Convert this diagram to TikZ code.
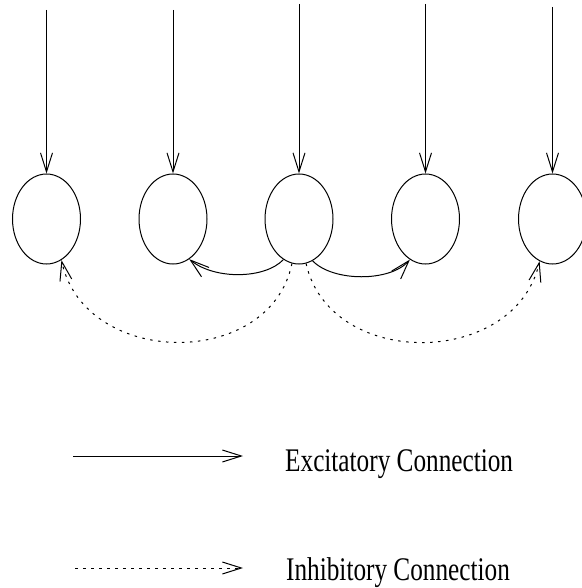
\documentclass[tikz,border=0pt]{standalone}
\usepackage{fontspec}
\setmainfont{Liberation Serif}
\usetikzlibrary{shapes.geometric,arrows.meta}
\tikzset{
  neuron/.style={ellipse, draw, line width=1pt, minimum width=68pt, minimum height=90pt, inner sep=0pt},
  conn/.style={line width=1pt, -{Straight Barb[length=19pt,width=12pt,line width=1pt]}},
  excite/.style={conn},
  inhibit/.style={conn, dash pattern=on 2.5pt off 5.5pt},
  label/.style={anchor=base west, inner sep=0pt, font=\fontsize{33}{40}\selectfont}
}
\begin{document}
\begin{tikzpicture}[x=1pt,y=-1pt]
  \useasboundingbox (0,0) rectangle (581,588);

  % units of the layer
  \node[neuron] (n1) at (46.5,219) {};
  \node[neuron] (n2) at (173,219) {};
  \node[neuron] (n3) at (299,219) {};
  \node[neuron] (n4) at (425.5,219) {};
  \node[neuron] (n5) at (552.5,219) {};

  % external inputs
  \coordinate (t1) at (46.5,10);
  \coordinate (t2) at (173,10);
  \coordinate (t3) at (299,4);
  \coordinate (t4) at (425.5,4);
  \coordinate (t5) at (552.5,7);
  \foreach \i in {1,...,5} \draw[excite] (t\i) -- (n\i.north);

  % lateral excitation to the nearest neighbours
  \draw[excite] (n3.-111) .. controls (265,279) and (215,280) .. (n2.-68);
  \draw[excite] (n3.-72) .. controls (333,282) and (390,282) .. (n4.-111);

  % lateral inhibition to the farther units
  \draw[inhibit] (n3.-99) .. controls (270,370) and (85,368) .. (n1.-70);
  \draw[inhibit] (n3.-81) .. controls (330,370) and (515,368) .. (n5.-107);

  % legend
  \coordinate (ea) at (73,456);
  \coordinate (eb) at (243,456);
  \coordinate (ia) at (75,568);
  \coordinate (ib) at (243,568);
  \draw[excite] (ea) -- (eb);
  \draw[inhibit] (ia) -- (ib);
  \node[label] (le) at (285,471) {\scalebox{0.765}[1]{Excitatory Connection}};
  \node[label] (li) at (286,580) {\scalebox{0.765}[1]{Inhibitory Connection}};
\end{tikzpicture}
\end{document}
